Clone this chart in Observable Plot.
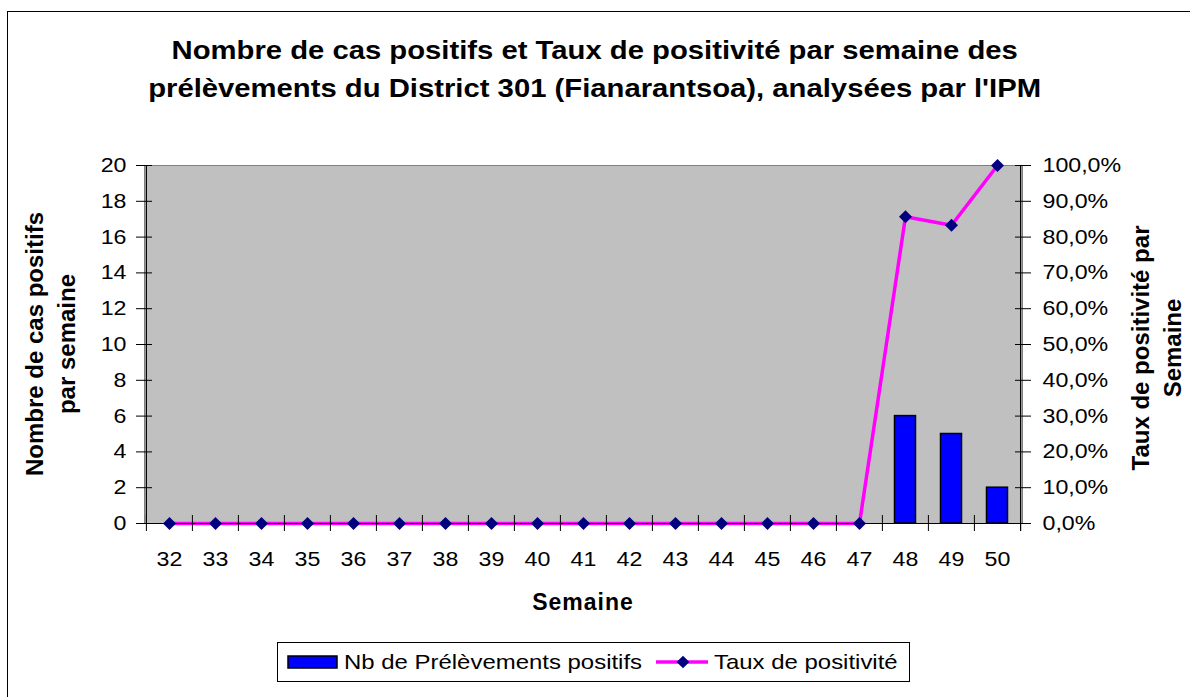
<!DOCTYPE html>
<html>
<head>
<meta charset="utf-8">
<script src="https://cdn.jsdelivr.net/npm/d3@7"></script>
<script src="https://cdn.jsdelivr.net/npm/@observablehq/plot@0.6"></script>
<style>
  html, body { margin: 0; padding: 0; background: #fff; }
  #wrap { position: relative; width: 1190px; height: 697px; overflow: hidden; background: #fff;
          font-family: "Liberation Sans", Arial, sans-serif; color: #000; }
  #border { position: absolute; left: 7px; top: 11px; width: 1300px; height: 800px; border: 1.5px solid #000; box-sizing: border-box; }
  #chart { position: absolute; left: 0; top: 0; }
  .title { position: absolute; left: 0; width: 1190px; text-align: center; font-weight: bold; font-size: 25px; line-height: 38px; }
  .title span { display: inline-block; transform: scaleX(1.17); transform-origin: center; white-space: nowrap; }
  .ytitle { position: absolute; font-weight: bold; font-size: 24px; line-height: 32px; text-align: center; white-space: nowrap; }
  #xtitle { position: absolute; left: 483px; width: 200px; top: 589px; text-align: center; font-weight: bold; font-size: 23px; letter-spacing: 1px; }
  #legend { position: absolute; left: 277px; top: 642px; width: 633px; height: 40px; border: 1.5px solid #000; box-sizing: border-box; background: #fff; font-size: 21px; }
  #legend .item { position: absolute; top: 0; height: 37px; line-height: 37px; white-space: nowrap; }
  #legend .txt { transform: scaleX(1.14); transform-origin: left center; }
</style>
</head>
<body>
<div id="wrap">
  <div id="border"></div>
  <div class="title" style="top:31px"><span>Nombre de cas positifs et Taux de positivité par semaine des</span></div>
  <div class="title" style="top:69px"><span>prélèvements du District 301 (Fianarantsoa), analysées par l'IPM</span></div>
  <div id="chart"></div>
  <div class="ytitle" id="ylab" style="left:51px; top:344px; transform: translate(-50%,-50%) rotate(-90deg);">Nombre de cas positifs<br>par semaine</div>
  <div class="ytitle" id="y2lab" style="left:1157px; top:348px; transform: translate(-50%,-50%) rotate(-90deg);">Taux de positivité par<br>Semaine</div>
  <div id="xtitle">Semaine</div>
  <div id="legend">
    <div class="item" style="left:9px;"><svg width="52" height="37"><rect x="1" y="13" width="49" height="12" fill="#0000ff" stroke="#000" stroke-width="1.5"/></svg></div>
    <div class="item txt" style="left:66px;">Nb de Prélèvements positifs</div>
    <div class="item" style="left:377px;"><svg width="54" height="37"><line x1="1" y1="19" x2="53" y2="19" stroke="#ff00ff" stroke-width="3.5"/><rect x="23.5" y="14.5" width="9" height="9" fill="#000080" transform="rotate(45 28 19)"/></svg></div>
    <div class="item txt" style="left:436px;">Taux de positivité</div>
  </div>
</div>
<script>
// ---- data ----
const weeks = [32, 33, 34, 35, 36, 37, 38, 39, 40, 41, 42, 43, 44, 45, 46, 47, 48, 49, 50];
const positives = [0, 0, 0, 0, 0, 0, 0, 0, 0, 0, 0, 0, 0, 0, 0, 0, 6, 5, 2];
const rates = [0, 0, 0, 0, 0, 0, 0, 0, 0, 0, 0, 0, 0, 0, 0, 0, 0.857, 0.833, 1.0];
const leftTicks = [0, 2, 4, 6, 8, 10, 12, 14, 16, 18, 20];
const rightTickLabels = ["0,0%", "10,0%", "20,0%", "30,0%", "40,0%", "50,0%", "60,0%", "70,0%", "80,0%", "90,0%", "100,0%"];
const yMax = 20; // left axis maximum, right axis 100%

const data = weeks.map((w, i) => ({week: w, count: positives[i], rate: rates[i]}));

const W = 1190, H = 697;
const mL = 144, mR = 168, mT = 165, mB = 174;
const half = (W - mL - mR) / weeks.length / 2;

const chart = Plot.plot({
  width: W, height: H,
  marginLeft: mL, marginRight: mR, marginTop: mT, marginBottom: mB,
  style: {fontFamily: "Liberation Sans, Arial, sans-serif", fontSize: "20px", background: "transparent", overflow: "visible"},
  x: {type: "band", domain: weeks, padding: 0},
  y: {domain: [0, yMax]},
  marks: [
    Plot.frame({fill: "#c0c0c0", stroke: "#808080"}),
    Plot.barY(data, {filter: d => d.count > 0, x: "week", y: "count", fill: "#0000ff", stroke: "#000", strokeWidth: 1.5, insetLeft: 12.5, insetRight: 12.5}),
    Plot.line(data, {x: "week", y: d => d.rate * yMax, stroke: "#ff00ff", strokeWidth: 3.5}),
    Plot.dot(data, {x: "week", y: d => d.rate * yMax, symbol: "square", rotate: 45, r: 5.2, fill: "#000080", stroke: "none"}),
    Plot.ruleY([0], {stroke: "#000", strokeWidth: 1.2}),
    Plot.ruleX([weeks[0]], {x: d => d, dx: -half, stroke: "#000", strokeWidth: 1.2}),
    Plot.ruleX([weeks[weeks.length - 1]], {x: d => d, dx: half, stroke: "#000", strokeWidth: 1.2, insetBottom: -8}),
    Plot.ruleX(weeks, {x: d => d, y1: 0, y2: 0, insetTop: -8, insetBottom: -8, dx: -half, stroke: "#000", strokeWidth: 1}),
    Plot.axisY({ticks: leftTicks, tickSize: 16, dx: 8, tickPadding: 10, label: null, fontSize: 20}),
    Plot.axisY({anchor: "right", ticks: leftTicks, tickSize: 16, dx: -8, tickPadding: 12, label: null, fontSize: 20,
                tickFormat: d => rightTickLabels[leftTicks.indexOf(d)]}),
    Plot.axisX({tickSize: 0, tickPadding: 28, label: null, fontSize: 20})
  ]
});
// stretch tick labels horizontally (about their anchor point) like the original rendering
d3.select(chart).selectAll('g[aria-label$="tick label"] text').each(function () {
  const t = this.getAttribute("transform") || "";
  const xa = this.getAttribute("x");
  const x = xa && !/em/.test(xa) ? (parseFloat(xa) || 0) : 0;
  this.setAttribute("transform", `${t} translate(${x},0) scale(1.16,1) translate(${-x},0)`);
});
document.getElementById("chart").appendChild(chart);
</script>
</body>
</html>
